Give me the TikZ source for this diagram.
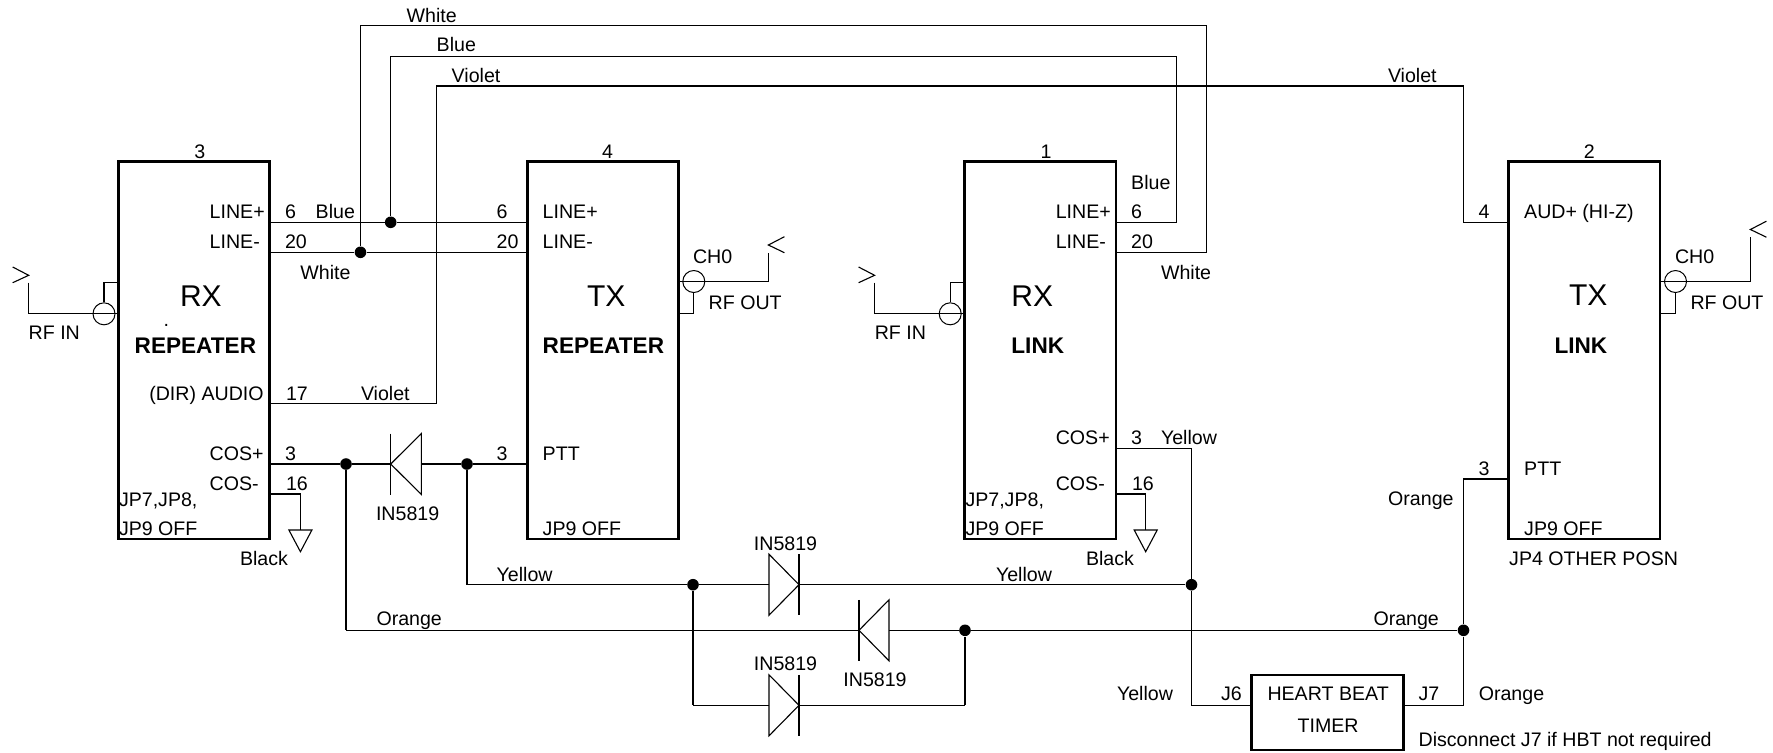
\documentclass[tikz,border=0pt]{standalone}
\usepackage{fontspec}
\setmainfont{Liberation Sans}
\usetikzlibrary{calc}
\tikzset{
    module/.style = {rectangle,
                    anchor=north west,
                    draw=black,
                    line width=1.4pt,
                    outer sep=0pt,
                    inner sep=0pt},
    timer/.style =  {module,
                    minimum width=76pt,
                    minimum height=37.5pt},
    radio/.style =  {module,
                    minimum width=75.6pt,
                    minimum height=188.6pt},
    junction/.style = {circle,
                    fill=black,
                    draw=none,
                    inner sep=0pt,
                    minimum size=5.8pt},
    coax/.style =   {circle,
                    fill=none,
                    draw=black,
                    line width=0.5pt,
                    inner sep=0pt,
                    minimum size=11pt},
    wire/.style =   {draw=black,
                    line width=0.55pt},
    lbl/.style =    {anchor=base west,
                    inner sep=0pt,
                    outer sep=0pt,
                    yshift=-0.4pt,
                    text=black,
                    font=\fontsize{9.8}{11.6}\selectfont},
    head/.style =   {lbl,
                    yshift=0.4pt,
                    font=\fontsize{15}{18}\selectfont},
    role/.style =   {lbl,
                    font=\fontsize{11.3}{13}\selectfont\bfseries},
    num/.style =    {lbl,
                    anchor=base}
}
\newcommand{\diode}[4]{
    \coordinate (#1b) at (#2,#4);
    \coordinate (#1k) at (#3,#4);
    \draw[wire] (#1k) ++(0,-30.5) -- ++(0,61);
    \draw[wire] (#1b) ++(0,-30.5) -- (#1k) -- ($(#1b)+(0,30.5)$) -- cycle;
}
\newcommand{\gndsym}[1]{
    \draw[wire] (#1) ++(-11.5,0) -- ++(23,0) -- ++(-11.5,21.7) -- cycle;
}
\begin{document}
\begin{tikzpicture}[x=0.5pt,y=-0.5pt]
    \useasboundingbox (0,0) rectangle (1773,752);

    \node[radio] (RXrep)  at (118.6,161.7) {};
    \node[radio] (TXrep)  at (527.4,161.7) {};
    \node[radio] (RXlink) at (964.7,161.7) {};
    \node[radio] (TXlink) at (1508.8,161.7) {};
    \node[timer] (HBT)    at (1251.7,675)  {};

    \node[junction] (dotBlue)  at (390.7,222.3) {};
    \node[junction] (dotWhite) at (360.5,252.3) {};
    \node[junction] (dotCos)   at (346,464)     {};
    \node[junction] (dotPtt)   at (467,464)     {};
    \node[junction] (dotYelL)  at (693,584.7)   {};
    \node[junction] (dotYelR)  at (1191.5,584.7) {};
    \node[junction] (dotOrgM)  at (965,630.3)   {};
    \node[junction] (dotOrgR)  at (1463.5,630.3) {};

    \coordinate (blueTop)  at (1176.7,56.3);
    \coordinate (whiteTop) at (1206.6,25.7);
    \coordinate (vioLow)   at (436.3,403.3);
    \coordinate (vioTop)   at (1463.5,86);
    \coordinate (yelTop)   at (1191.5,448.7);
    \coordinate (pinHBT)   at (1191.5,705.3);
    \coordinate (pinPTT)   at (1463.5,479);
    \coordinate (orgLow)   at (346,630.3);
    \coordinate (yelLow)   at (467,584.7);
    \coordinate (parLow)   at (693,705.3);
    \coordinate (parEnd)   at (965,705.3);
    \coordinate (gndA)     at (300.4,530);
    \coordinate (gndB)     at (1145.7,530);
    \coordinate (pinGndA)  at (300.4,494);
    \coordinate (pinGndB)  at (1145.7,494);

    \diode{dCos}{421.4}{390.7}{464}
    \diode{dYel}{769}{799}{584.7}
    \diode{dOrg}{889}{859}{630.3}
    \diode{dPar}{769}{799}{705.3}

    \path [wire]    (RXrep.east |- dotBlue) edge (dotBlue)
                    (dotBlue) edge (TXrep.west |- dotBlue)
                    (RXrep.east |- dotWhite) edge (dotWhite)
                    (dotWhite) edge (TXrep.west |- dotWhite)
                    (RXrep.east |- dotCos) edge (dotCos)
                    (dotCos) edge (dCosk)
                    (dCosb) edge (dotPtt)
                    (dotPtt) edge (TXrep.west |- dotPtt)
                    (dotYelL) edge (dYelb)
                    (dYelk) edge (dotYelR)
                    (orgLow) edge (dOrgk)
                    (dOrgb) edge (dotOrgM)
                    (dotOrgM) edge (dotOrgR)
                    (dParb) edge (parLow)
                    (dPark) edge (parEnd);

    \draw[wire] (dotBlue) |- (blueTop) |- (RXlink.east |- dotBlue);
    \draw[wire] (dotWhite) |- (whiteTop) |- (RXlink.east |- dotWhite);
    \draw[wire] (RXrep.east |- vioLow) -- (vioLow) |- (vioTop) |- (TXlink.west |- dotBlue);
    \draw[wire] (dotCos) -- (orgLow);
    \draw[wire] (dotPtt) -- (yelLow) -- (dotYelL);
    \draw[wire] (dotYelL) -- (parLow);
    \draw[wire] (parEnd) -- (dotOrgM);
    \draw[wire] (RXlink.east |- yelTop) -- (yelTop) -- (dotYelR);
    \draw[wire] (dotYelR) -- (pinHBT) -- (HBT.west |- pinHBT);
    \draw[wire] (HBT.east |- pinHBT) -| (dotOrgR);
    \draw[wire] (dotOrgR) -- (pinPTT) -- (TXlink.west |- pinPTT);
    \draw[wire] (RXrep.east |- pinGndA) -- (pinGndA) -- (gndA);
    \draw[wire] (RXlink.east |- pinGndB) -- (pinGndB) -- (gndB);
    \gndsym{gndA}
    \gndsym{gndB}

    \node[coax] (coaxRXrep)  at (104,313.8)   {};
    \node[coax] (coaxTXrep)  at (693.8,281.5) {};
    \node[coax] (coaxRXlink) at (950.2,313.8) {};
    \node[coax] (coaxTXlink) at (1675.5,281.5) {};

    \coordinate (antRXrep)  at (28.7,275.3);
    \coordinate (antRXlink) at (874.6,275.3);
    \coordinate (antTXrep)  at (768.4,245);
    \coordinate (antTXlink) at (1750.4,229.5);
    \draw[wire] (antRXrep) ++(-16,-8.3) -- (antRXrep) -- ++(-16,7.4);
    \draw[wire] (antRXlink) ++(-16,-8.3) -- (antRXlink) -- ++(-16,7.4);
    \draw[wire] (antTXrep) ++(16,-8.3) -- (antTXrep) -- ++(16,7.7);
    \draw[wire] (antTXlink) ++(16,-8.3) -- (antTXlink) -- ++(16,7.7);
    \draw[wire] (antRXrep) ++(0,7.4) |- (RXrep.west |- coaxRXrep);
    \draw[wire] (antRXlink) ++(0,7.4) |- (RXlink.west |- coaxRXlink);
    \draw[wire] (TXrep.east |- coaxTXrep) -| ($(antTXrep)+(0,7.7)$);
    \draw[wire] (TXlink.east |- coaxTXlink) -| ($(antTXlink)+(0,7.7)$);
    \draw[wire] (coaxRXrep.north) |- (RXrep.west |- 0,282.7);
    \draw[wire] (coaxRXlink.north) |- (RXlink.west |- 0,282.7);
    \draw[wire] (coaxTXrep.south) |- (TXrep.east |- 0,313.3);
    \draw[wire] (coaxTXlink.south) |- (TXlink.east |- 0,313.3);

    \node[num] (n3)  at (199.8,157.5)  {3};
    \node[num] (n4)  at (607.5,157.5)  {4};
    \node[num] (n1)  at (1046,157.5)   {1};
    \node[num] (n2)  at (1589.3,157.5) {2};

    \node[head] (hRXrep)  at (180,306.7)    {RX};
    \node[head] (hTXrep)  at (587,306.7)    {TX};
    \node[head] (hRXlink) at (1011.4,306.7) {RX};
    \node[head] (hTXlink) at (1569,305.5)   {TX};
    \node[role] (rRXrep)  at (134.7,352.7)  {REPEATER};
    \node[role] (rTXrep)  at (542.7,352.7)  {REPEATER};
    \node[role] (rRXlink) at (1011.4,352.7) {LINK};
    \node[role] (rTXlink) at (1554.5,352.7) {LINK};
    \node[lbl]  (stray)   at (163.5,326)    {.};

    \node[lbl] (a1)  at (209.7,217.7) {LINE+};
    \node[lbl] (a2)  at (209.7,247.7) {LINE-};
    \node[lbl] (a3)  at (149.3,399.3) {(DIR) AUDIO};
    \node[lbl] (a4)  at (209.7,460)   {COS+};
    \node[lbl] (a5)  at (209.7,490)   {COS-};
    \node[lbl] (a6)  at (119,506)     {JP7,JP8,};
    \node[lbl] (a7)  at (119,535)     {JP9 OFF};
    \node[lbl] (a8)  at (285,217.7)   {6};
    \node[lbl] (a9)  at (315.7,217.7) {Blue};
    \node[lbl] (a10) at (285,247.7)   {20};
    \node[lbl] (a11) at (300.4,278.3) {White};
    \node[lbl] (a12) at (286,399.3)   {17};
    \node[lbl] (a13) at (361,399.3)   {Violet};
    \node[lbl] (a14) at (285,460)     {3};
    \node[lbl] (a15) at (286,490)     {16};
    \node[lbl] (a16) at (240,565)     {Black};
    \node[lbl] (a17) at (28.7,339)    {RF IN};
    \node[lbl] (a18) at (376,519.9)   {IN5819};

    \node[lbl] (b1)  at (542.7,217.7) {LINE+};
    \node[lbl] (b2)  at (542.7,247.7) {LINE-};
    \node[lbl] (b3)  at (542.7,460)   {PTT};
    \node[lbl] (b4)  at (542.7,535)   {JP9 OFF};
    \node[lbl] (b5)  at (496.7,217.7) {6};
    \node[lbl] (b6)  at (496.7,247.7) {20};
    \node[lbl] (b7)  at (496.7,460)   {3};
    \node[lbl] (b8)  at (693,262.7)   {CH0};
    \node[lbl] (b9)  at (708.7,309)   {RF OUT};

    \node[lbl] (c1)  at (1055.8,217.7) {LINE+};
    \node[lbl] (c2)  at (1055.8,247.7) {LINE-};
    \node[lbl] (c3)  at (1055.8,443.3) {COS+};
    \node[lbl] (c4)  at (1055.8,490)   {COS-};
    \node[lbl] (c5)  at (965.5,506)    {JP7,JP8,};
    \node[lbl] (c6)  at (965.5,535)    {JP9 OFF};
    \node[lbl] (c7)  at (1131.2,188.3) {Blue};
    \node[lbl] (c8)  at (1131.2,217.7) {6};
    \node[lbl] (c9)  at (1131.2,247.7) {20};
    \node[lbl] (c10) at (1161,278.3)   {White};
    \node[lbl] (c11) at (1131.2,443.3) {3};
    \node[lbl] (c12) at (1161,443.3)   {Yellow};
    \node[lbl] (c13) at (1132,490)     {16};
    \node[lbl] (c14) at (1086,565)     {Black};
    \node[lbl] (c15) at (874.8,339)    {RF IN};

    \node[lbl] (d1)  at (1524.2,217.7) {AUD+ (HI-Z)};
    \node[lbl] (d2)  at (1478.5,217.7) {4};
    \node[lbl] (d3)  at (1524.2,475)   {PTT};
    \node[lbl] (d4)  at (1478.5,475)   {3};
    \node[lbl] (d5)  at (1388.2,505)   {Orange};
    \node[lbl] (d6)  at (1524.2,535)   {JP9 OFF};
    \node[lbl] (d7)  at (1509.2,565)   {JP4 OTHER POSN};
    \node[lbl] (d8)  at (1675,262.7)   {CH0};
    \node[lbl] (d9)  at (1690.5,309)   {RF OUT};

    \node[lbl] (t1)  at (406.7,21.2)   {White};
    \node[lbl] (t2)  at (436.7,51)     {Blue};
    \node[lbl] (t3)  at (451.7,81.5)   {Violet};
    \node[lbl] (t4)  at (1388,81.5)    {Violet};

    \node[lbl] (e1)  at (496.7,581)    {Yellow};
    \node[lbl] (e2)  at (996,581)      {Yellow};
    \node[lbl] (e3)  at (376.5,625)    {Orange};
    \node[lbl] (e4)  at (1373.5,625)   {Orange};
    \node[lbl] (e5)  at (753.9,549.2)  {IN5819};
    \node[lbl] (e6)  at (753.9,669.9)  {IN5819};
    \node[lbl] (e7)  at (843.4,685.7)  {IN5819};
    \node[lbl] (e8)  at (1117,700)     {Yellow};
    \node[lbl] (e9)  at (1221,700)     {J6};
    \node[lbl] (e10) at (1267.5,700)   {HEART BEAT};
    \node[lbl] (e11) at (1297.6,731.7) {TIMER};
    \node[lbl] (e12) at (1418.6,700)   {J7};
    \node[lbl] (e13) at (1478.8,700)   {Orange};
    \node[lbl] (e14) at (1418.6,746)   {Disconnect J7 if HBT not required};
\end{tikzpicture}
\end{document}
